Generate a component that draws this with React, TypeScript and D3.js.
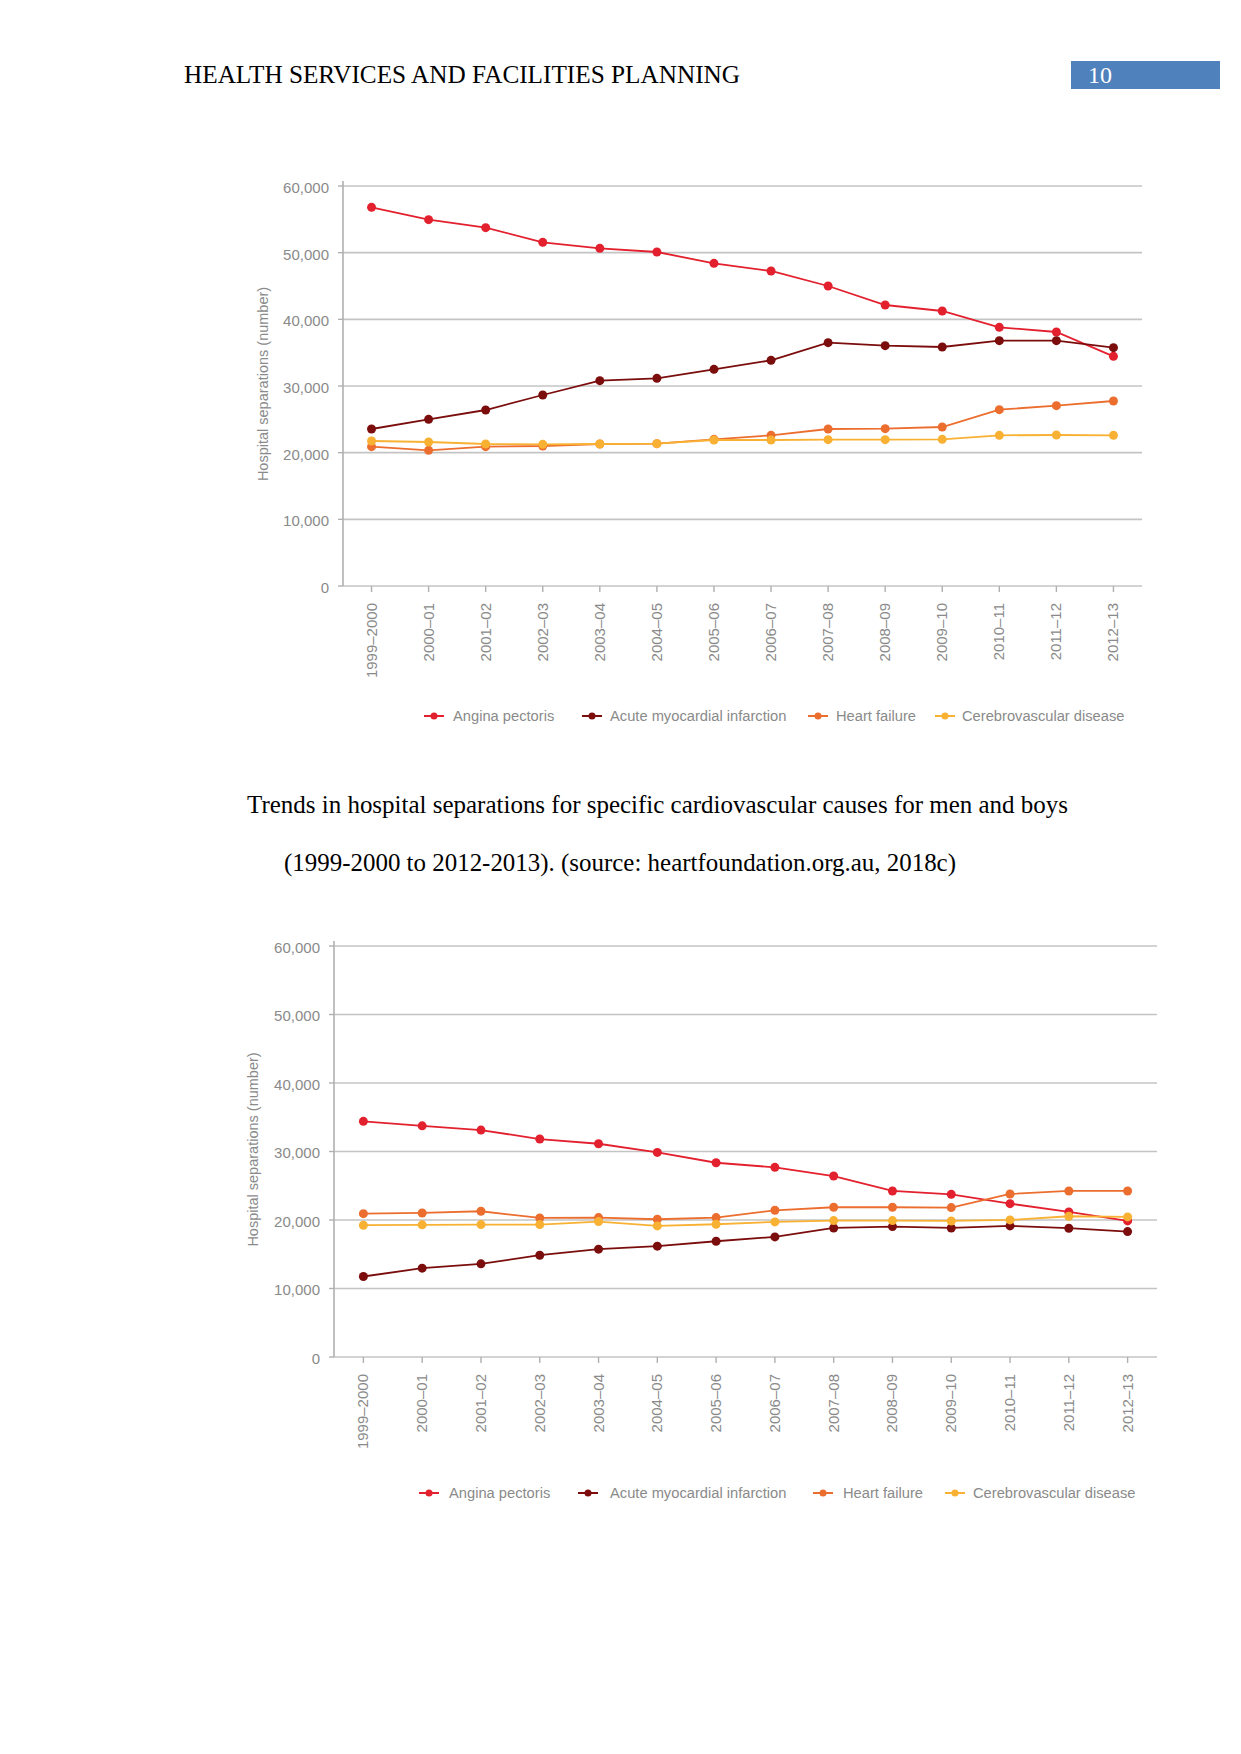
import React from "react";
import * as d3 from "d3";

const categories = [
  "1999–2000", "2000–01", "2001–02", "2002–03", "2003–04", "2004–05", "2005–06",
  "2006–07", "2007–08", "2008–09", "2009–10", "2010–11", "2011–12", "2012–13",
];
const yTicks = [0, 10000, 20000, 30000, 40000, 50000, 60000];
const seriesNames = ["Angina pectoris", "Acute myocardial infarction", "Heart failure", "Cerebrovascular disease"];
const seriesColors = ["#e3202e", "#7b0d0d", "#ec6e2f", "#f8b133"];

// Chart 1: men and boys
const menAngina = [56800, 54950, 53750, 51550, 50650, 50100, 48400, 47250, 45000, 42150, 41250, 38800, 38100, 34450];
const menAMI = [23550, 25000, 26400, 28650, 30800, 31150, 32500, 33850, 36500, 36050, 35850, 36800, 36800, 35750];
const menHF = [20900, 20350, 20900, 21000, 21300, 21350, 22000, 22600, 23550, 23600, 23850, 26450, 27050, 27750];
const menCVD = [21750, 21600, 21300, 21250, 21300, 21350, 21900, 21900, 21950, 21950, 22000, 22600, 22650, 22600];

// Chart 2: women and girls
const womenAngina = [34400, 33750, 33130, 31820, 31130, 29870, 28360, 27690, 26420, 24240, 23750, 22390, 21180, 19870];
const womenAMI = [11750, 12970, 13600, 14860, 15740, 16180, 16900, 17530, 18840, 19040, 18840, 19140, 18800, 18310];
const womenHF = [20930, 21030, 21280, 20300, 20350, 20110, 20350, 21420, 21860, 21860, 21810, 23800, 24240, 24240];
const womenCVD = [19240, 19290, 19330, 19330, 19770, 19140, 19380, 19720, 19910, 19910, 19860, 20010, 20550, 20450];

const headerText = "HEALTH SERVICES AND FACILITIES PLANNING";
const pageNumber = "10";
const captionLine1 = "Trends in hospital separations for specific cardiovascular causes for men and boys";
const captionLine2 = "(1999-2000 to 2012-2013). (source: heartfoundation.org.au, 2018c)";
const yTitle = "Hospital separations (number)";

const GRAY = "#8a8a8a";
const FONT = "'Liberation Sans', Arial, sans-serif";
const SERIF = "'Liberation Serif', 'Times New Roman', serif";

type ChartProps = {
  series: number[][];
  left: number;
  right: number;
  top: number;
  bottom: number;
  titleX: number;
  legendY: number;
  legendMarkers: number[];
  legendTexts: number[];
};

function Chart({ series, left, right, top, bottom, titleX, legendY, legendMarkers, legendTexts }: ChartProps) {
  const x = d3.scalePoint<string>().domain(categories).range([left, right]).padding(0.5);
  const y = d3.scaleLinear().domain([0, 60000]).range([bottom, top]);
  const line = d3
    .line<number>()
    .x((_, i) => x(categories[i]) as number)
    .y((d) => y(d));
  const fmt = d3.format(",");
  return (
    <g>
      {yTicks.map((t) => (
        <g key={t}>
          <line x1={left} x2={right} y1={y(t)} y2={y(t)} stroke="#c4c4c4" strokeWidth={1.6} />
          <line x1={left - 5} x2={left} y1={y(t)} y2={y(t)} stroke="#b0b0b0" strokeWidth={1.4} />
          <text
            x={left - 14}
            y={y(t) + 3}
            textAnchor="end"
            dominantBaseline="middle"
            fontFamily={FONT}
            fontSize={15}
            fill={GRAY}
          >
            {fmt(t)}
          </text>
        </g>
      ))}
      <line x1={left} x2={left} y1={top - 5} y2={bottom} stroke="#b0b0b0" strokeWidth={1.6} />
      {categories.map((c) => (
        <g key={c}>
          <line x1={x(c)} x2={x(c)} y1={bottom} y2={bottom + 6} stroke="#b0b0b0" strokeWidth={1.4} />
          <text
            transform={`translate(${(x(c) as number) + 5},${bottom + 17}) rotate(-90)`}
            textAnchor="end"
            fontFamily={FONT}
            fontSize={15}
            fill={GRAY}
          >
            {c}
          </text>
        </g>
      ))}
      <text
        transform={`translate(${titleX + 5},${(top + bottom) / 2 - 2}) rotate(-90)`}
        textAnchor="middle"
        fontFamily={FONT}
        fontSize={14.5}
        fill={GRAY}
      >
        {yTitle}
      </text>
      {series.map((s, si) => (
        <g key={si}>
          <path d={line(s) || ""} fill="none" stroke={seriesColors[si]} strokeWidth={1.8} />
          {s.map((v, i) => (
            <circle key={i} cx={x(categories[i])} cy={y(v)} r={4.5} fill={seriesColors[si]} />
          ))}
        </g>
      ))}
      {seriesNames.map((n, i) => (
        <g key={n}>
          <line
            x1={legendMarkers[i] - 10}
            x2={legendMarkers[i] + 10}
            y1={legendY}
            y2={legendY}
            stroke={seriesColors[i]}
            strokeWidth={2}
          />
          <circle cx={legendMarkers[i]} cy={legendY} r={3.5} fill={seriesColors[i]} />
          <text
            x={legendTexts[i]}
            y={legendY + 5}
            fontFamily={FONT}
            fontSize={14.7}
            fill={GRAY}
          >
            {n}
          </text>
        </g>
      ))}
    </g>
  );
}

export default function App() {
  return (
    <svg
      width={1241}
      height={1754}
      style={{ position: "absolute", left: 0, top: 0, background: "#fff" }}
    >
      <rect x={0} y={0} width={1241} height={1754} fill="#fff" />
      <text x={184} y={83} fontFamily={SERIF} fontSize={25} fill="#000" textLength={556} lengthAdjust="spacingAndGlyphs">
        {headerText}
      </text>
      <rect x={1071} y={61} width={149} height={28} fill="#4f81bd" />
      <text x={1088} y={83} fontFamily={SERIF} fontSize={24} fill="#fff">
        {pageNumber}
      </text>

      <Chart
        series={[menAngina, menAMI, menHF, menCVD]}
        left={343}
        right={1142}
        top={186}
        bottom={586}
        titleX={263}
        legendY={716}
        legendMarkers={[434, 592, 818, 945]}
        legendTexts={[453, 610, 836, 962]}
      />

      <text x={247} y={813} fontFamily={SERIF} fontSize={25} fill="#000" textLength={821} lengthAdjust="spacingAndGlyphs">
        {captionLine1}
      </text>
      <text x={284} y={871} fontFamily={SERIF} fontSize={25} fill="#000" textLength={672} lengthAdjust="spacingAndGlyphs">
        {captionLine2}
      </text>

      <Chart
        series={[womenAngina, womenAMI, womenHF, womenCVD]}
        left={334}
        right={1157}
        top={946}
        bottom={1357}
        titleX={253}
        legendY={1493}
        legendMarkers={[429, 588, 823, 955]}
        legendTexts={[449, 610, 843, 973]}
      />
    </svg>
  );
}
